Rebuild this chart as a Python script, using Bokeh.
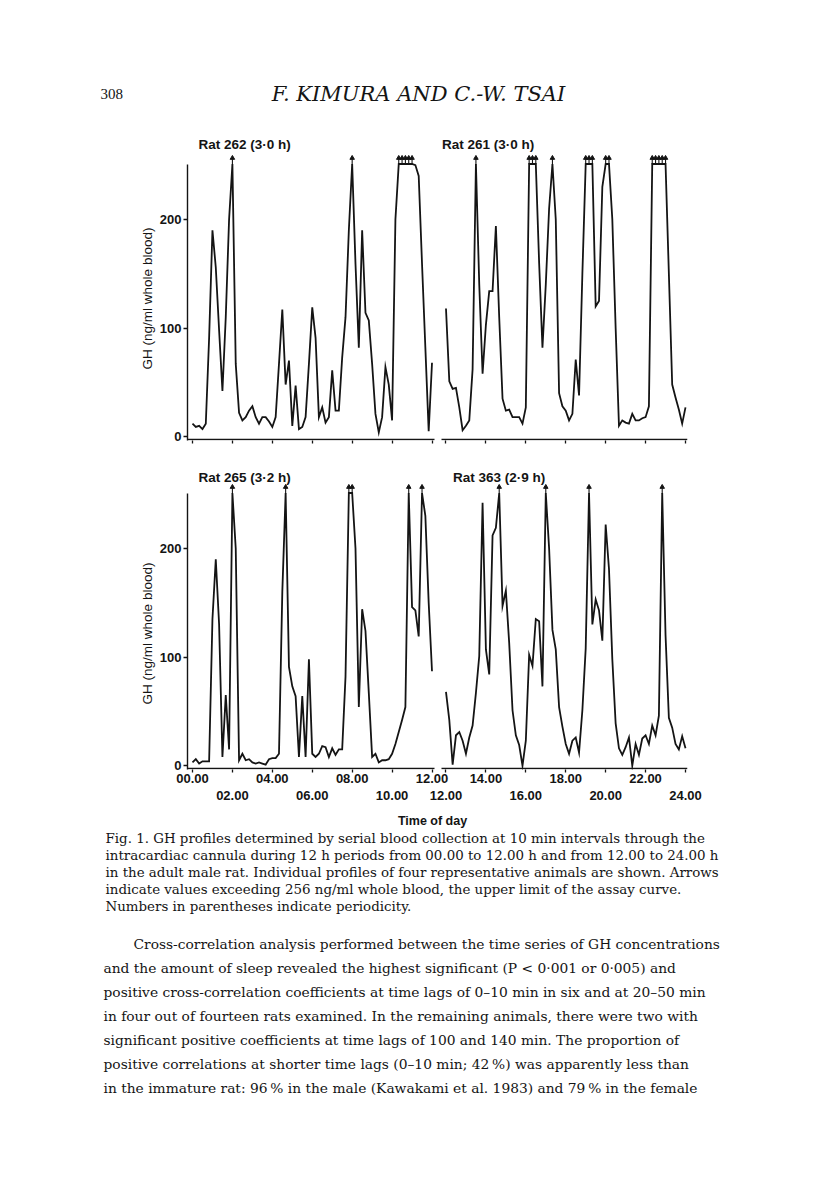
import numpy as np
from bokeh.plotting import figure
from bokeh.models import Range1d, LinearAxis, FixedTicker, ColumnDataSource
from bokeh.layouts import column, row
from bokeh.embed import file_html
from bokeh.resources import INLINE
from bokeh.core.properties import value

# ---------------- data ----------------
SAMPLE_MINUTES = list(range(0, 730, 10))          # 10-min sampling over 12 h
LEFT_START_H = 0.0                                  # 00.00 - 12.00
RIGHT_START_H = 12.0                                # 12.00 - 24.00

RAT_262 = [12, 9, 10, 7, 12, 91, 190, 156, 98, 42, 110, 200, 256, 67, 22, 15, 18, 24, 28, 18,
           12, 18, 18, 14, 9, 18, 67, 117, 48, 70, 10, 47, 7, 9, 18, 67, 119, 91, 18, 27,
           13, 18, 61, 24, 24, 73, 110, 190, 256, 159, 82, 190, 114, 107, 67, 21, 4, 18, 64, 48,
           15, 200, 256, 256, 256, 256, 256, 250, 240, 159, 82, 5, 68]
RAT_261 = [118, 51, 44, 45, 27, 6, 10, 15, 62, 256, 140, 58, 103, 134, 134, 194, 110, 35, 24, 25,
           18, 18, 18, 12, 27, 256, 256, 256, 160, 82, 140, 210, 256, 200, 40, 28, 24, 15, 21, 71,
           38, 150, 256, 256, 256, 120, 125, 230, 256, 256, 200, 100, 10, 15, 13, 12, 21, 15, 15, 17,
           18, 28, 256, 256, 256, 256, 256, 150, 48, 36, 25, 12, 27]
RAT_265 = [3, 6, 2, 4, 4, 4, 135, 190, 130, 8, 65, 15, 256, 200, 5, 11, 5, 6, 3, 2,
           3, 2, 1, 6, 7, 7, 11, 160, 256, 91, 73, 64, 8, 64, 8, 98, 11, 8, 11, 18,
           17, 8, 16, 10, 15, 15, 82, 256, 256, 200, 54, 144, 124, 67, 8, 11, 3, 5, 5, 6,
           11, 20, 31, 42, 54, 256, 146, 143, 119, 256, 230, 150, 87]
RAT_363 = [68, 42, 1, 28, 31, 23, 11, 26, 37, 67, 101, 242, 107, 84, 212, 219, 256, 147, 161, 113,
           51, 28, 19, 0, 23, 102, 92, 135, 133, 73, 256, 200, 125, 107, 54, 36, 20, 11, 23, 26,
           12, 51, 108, 256, 130, 153, 143, 115, 222, 181, 98, 39, 16, 10, 17, 26, 0, 20, 10, 25,
           28, 20, 37, 28, 46, 256, 120, 44, 35, 20, 15, 27, 16]

TITLES = ["Rat 262 (3\u00b70 h)", "Rat 261 (3\u00b70 h)", "Rat 265 (3\u00b72 h)", "Rat 363 (2\u00b79 h)"]
ASSAY_LIMIT = 256
Y_TICKS = [0, 100, 200]
LEFT_TICKS = [0, 2, 4, 6, 8, 10, 12]
RIGHT_TICKS = [12, 14, 16, 18, 20, 22, 24]
ROW1_LEFT = {0: "00.00", 4: "04.00", 8: "08.00", 12: "12.00"}
ROW2_LEFT = {2: "02.00", 6: "06.00", 10: "10.00"}
ROW1_RIGHT = {14: "14.00", 18: "18.00", 22: "22.00"}
ROW2_RIGHT = {12: "12.00", 16: "16.00", 20: "20.00", 24: "24.00"}

HEADER_PAGE = "308"
HEADER_AUTHORS = "F. KIMURA AND C.-W. TSAI"
X_TITLE = "Time of day"
Y_TITLE = "GH (ng/ml whole blood)"
CAPTION = [
    "Fig. 1. GH profiles determined by serial blood collection at 10 min intervals through the",
    "intracardiac cannula during 12 h periods from 00.00 to 12.00 h and from 12.00 to 24.00 h",
    "in the adult male rat. Individual profiles of four representative animals are shown. Arrows",
    "indicate values exceeding 256 ng/ml whole blood, the upper limit of the assay curve.",
    "Numbers in parentheses indicate periodicity.",
]
BODY = [
    "Cross-correlation analysis performed between the time series of GH concentrations",
    "and the amount of sleep revealed the highest significant (P < 0\u00b7001 or 0\u00b7005) and",
    "positive cross-correlation coefficients at time lags of 0\u201310 min in six and at 20\u201350 min",
    "in four out of fourteen rats examined. In the remaining animals, there were two with",
    "significant positive coefficients at time lags of 100 and 140 min. The proportion of",
    "positive correlations at shorter time lags (0\u201310 min; 42\u2009%) was apparently less than",
    "in the immature rat: 96\u2009% in the male (Kawakami et al. 1983) and 79\u2009% in the female",
]

# ---------------- layout constants ----------------
W = 816
LABEL_W = 156                      # strip holding the rotated y title
BORDER_L, BORDER_R = 30, 129       # plot borders (frame starts at page x 186)
FRAME_H = 308
Y0, Y1 = -3.5, 280.0
AXIS_TOP = 251.0
LINE_INSET = 0.7
LEFT_X = (-0.25, 24.8)          # left-panel hours across the whole frame
RIGHT_X = (-0.95, 24.1)         # right-panel hours across the whole frame
LEFT_BOUNDS = (-0.25, 12.1)
RIGHT_BOUNDS = (11.8, 24.1)
SHIFT = round(LEFT_X[0] - RIGHT_X[0], 3)
ARROW_Y0, ARROW_Y1 = 250.5, 256.5
SANS = "Liberation Sans"
SERIF = "DejaVu Serif"
INK = "#141414"

ALL_TICKS = [round(t, 3) for t in LEFT_TICKS] + [round(t + SHIFT, 3) for t in RIGHT_TICKS]


def overrides(left, right):
    d = {}
    for t in LEFT_TICKS:
        d[round(t, 3)] = left.get(t, "")
    for t in RIGHT_TICKS:
        d[round(t + SHIFT, 3)] = right.get(t, "")
    return d


def label_axis(labels, show, standoff, tick_out):
    ax = LinearAxis(ticker=FixedTicker(ticks=ALL_TICKS))
    ax.axis_line_color = None
    ax.major_tick_line_color = INK if tick_out > 0 else None
    ax.major_tick_line_width = 1.3
    ax.major_tick_out = tick_out
    ax.major_tick_in = 0
    ax.minor_tick_line_color = None
    ax.major_label_overrides = labels
    ax.major_label_standoff = standoff
    ax.major_label_text_font = SANS
    ax.major_label_text_font_style = "bold"
    ax.major_label_text_font_size = "13px"
    ax.major_label_text_color = INK if show else None
    return ax


def blank_fig(width, height, x_range, y_range, **kw):
    p = figure(width=width, height=height, x_range=x_range, y_range=y_range,
               x_axis_type=None, y_axis_type=None, output_backend="svg",
               toolbar_location=None, frame_align=False, **kw)
    p.outline_line_color = None
    p.background_fill_color = "white"
    p.border_fill_color = "white"
    return p


def panel_row(vals_l, vals_r, title_l, title_r, title_xl, title_xr, title_y,
              bottom_labels, border_top, border_bottom, ylabel_y):
    height = border_top + FRAME_H + border_bottom
    p = blank_fig(W - LABEL_W, height, Range1d(*LEFT_X), Range1d(Y0, Y1),
                  min_border_left=BORDER_L, min_border_right=BORDER_R,
                  min_border_top=border_top, min_border_bottom=border_bottom)
    p.extra_x_ranges = {"right": Range1d(*RIGHT_X)}

    yax = LinearAxis(ticker=FixedTicker(ticks=Y_TICKS), bounds=(Y0, AXIS_TOP))
    yax.axis_line_color = INK
    yax.axis_line_width = 1.4
    yax.major_tick_line_color = INK
    yax.major_tick_line_width = 1.3
    yax.major_tick_out = 4
    yax.major_tick_in = 0
    yax.minor_tick_line_color = None
    yax.major_label_standoff = 2
    yax.major_label_text_font = SANS
    yax.major_label_text_font_style = "bold"
    yax.major_label_text_font_size = "13px"
    yax.major_label_text_color = INK
    p.add_layout(yax, "left")

    # separate baselines for the two 12-h panels
    for rng, bounds in (("default", LEFT_BOUNDS), ("right", RIGHT_BOUNDS)):
        base = LinearAxis(x_range_name=rng, ticker=FixedTicker(ticks=[]), bounds=bounds,
                          fixed_location=Y0 + LINE_INSET)
        base.axis_line_color = INK
        base.axis_line_width = 1.4
        base.major_tick_line_color = None
        base.minor_tick_line_color = None
        base.major_label_text_color = None
        p.add_layout(base, "below")

    p.add_layout(label_axis(overrides(ROW1_LEFT, ROW1_RIGHT), bottom_labels, 1, 3), "below")
    if bottom_labels:
        p.add_layout(label_axis(overrides(ROW2_LEFT, ROW2_RIGHT), True, 5, 0), "below")

    for vals, start, rng in ((vals_l, LEFT_START_H, "default"), (vals_r, RIGHT_START_H, "right")):
        hours = [start + m / 60.0 for m in SAMPLE_MINUTES]
        shown = np.minimum(np.array(vals, dtype=float), AXIS_TOP)
        p.line(hours, shown, line_color=INK, line_width=1.8, line_join="miter",
               x_range_name=rng)
        ex = [h for h, v in zip(hours, vals) if v >= ASSAY_LIMIT]
        src = ColumnDataSource(dict(x=ex, y0=[ARROW_Y0] * len(ex), y1=[ARROW_Y1] * len(ex)))
        p.segment(x0="x", y0="y0", x1="x", y1="y1", source=src, line_color=INK,
                  line_width=1.1, x_range_name=rng)
        p.scatter(x="x", y="y1", source=src, marker="triangle", size=4.5,
                  fill_color=INK, line_color=INK, x_range_name=rng)

    p.text(x=[title_xl], y=[title_y], text=[title_l], text_font=value(SANS), text_font_style="bold",
           text_font_size="13.5px", text_baseline="middle", text_align="left", text_color=INK)
    p.text(x=[title_xr], y=[title_y], text=[title_r], text_font=value(SANS), text_font_style="bold",
           text_font_size="13.5px", text_baseline="middle", text_align="left", text_color=INK,
           x_range_name="right")

    lab = blank_fig(LABEL_W, height, Range1d(0, LABEL_W), Range1d(height, 0), min_border=0)
    lab.text(x=[147], y=[ylabel_y], text=[Y_TITLE], angle=np.pi / 2, text_font=value(SANS),
             text_font_size="13.5px", text_baseline="middle", text_align="center", text_color=INK)
    return row(lab, p, spacing=0)


def text_fig(top, bottom):
    return blank_fig(W, bottom - top, Range1d(0, W), Range1d(bottom, top), min_border=0)


# header
hdr = text_fig(0, 132)
hdr.text(x=[100], y=[93], text=[HEADER_PAGE], text_font=value("Liberation Serif"),
         text_font_size="15px", text_baseline="middle", text_align="left", text_color=INK)
hdr.text(x=[418], y=[93], text=[HEADER_AUTHORS], text_font=value(SERIF),
         text_font_style="italic", text_font_size="21px", text_baseline="middle",
         text_align="center", text_color=INK)

top = panel_row(RAT_262, RAT_261, TITLES[0], TITLES[1], 0.3, 11.8, 268.5, False, 0, 10, 166)
bot = panel_row(RAT_265, RAT_363, TITLES[2], TITLES[3], 0.3, 12.35, 265.0, True, 11, 40, 183)

txt = text_fig(809, 1190)
txt.text(x=[432], y=[820], text=[X_TITLE], text_font=value(SANS), text_font_style="bold",
         text_font_size="12.5px", text_baseline="middle", text_align="center", text_color=INK)
txt.text(x=[105] * len(CAPTION), y=[838 + 17 * k for k in range(len(CAPTION))], text=CAPTION,
         text_font=value(SERIF), text_font_size="13.4px", text_baseline="middle",
         text_align="left", text_color=INK)
txt.text(x=[133] + [103] * (len(BODY) - 1), y=[943 + 24 * k for k in range(len(BODY))], text=BODY,
         text_font=value(SERIF), text_font_size="13.8px", text_baseline="middle",
         text_align="left", text_color=INK)

layout = column(hdr, top, bot, txt, spacing=0)
open("out.html", "w").write(file_html(layout, INLINE))
